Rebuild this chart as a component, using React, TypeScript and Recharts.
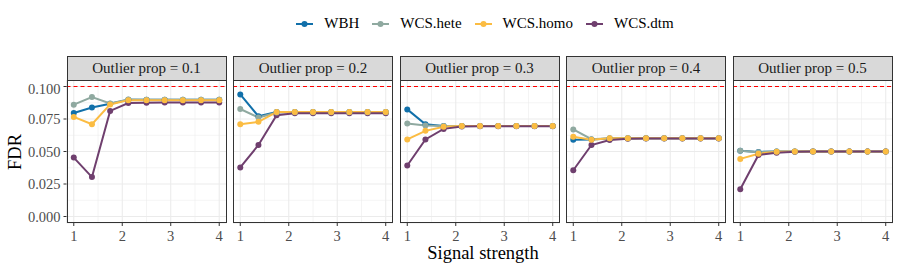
import { CartesianGrid, Line, LineChart, ReferenceLine, XAxis, YAxis } from 'recharts'

// ---------------------------------------------------------------------------
// Data
// ---------------------------------------------------------------------------

const SIGNAL = [1, 1.375, 1.75, 2.125, 2.5, 2.875, 3.25, 3.625, 4]
const OUTLIER_PROPS = ['0.1', '0.2', '0.3', '0.4', '0.5']

// one row per outlier proportion, one value per signal strength
const WBH_FDR = [
  [0.0796, 0.0838, 0.0868, 0.0898, 0.0898, 0.0898, 0.0898, 0.0898, 0.0898],
  [0.0939, 0.0771, 0.0804, 0.0803, 0.0803, 0.0803, 0.0803, 0.0803, 0.0803],
  [0.0824, 0.071, 0.0697, 0.0697, 0.0697, 0.0697, 0.0697, 0.0697, 0.0697],
  [0.059, 0.0592, 0.06, 0.0601, 0.0601, 0.0601, 0.0601, 0.0601, 0.0601],
  [0.0506, 0.0497, 0.05, 0.05, 0.05, 0.05, 0.05, 0.05, 0.05],
]
const HETE_FDR = [
  [0.086, 0.0919, 0.087, 0.09, 0.0898, 0.0898, 0.0898, 0.0898, 0.0898],
  [0.0827, 0.0761, 0.08, 0.0802, 0.0802, 0.0802, 0.0802, 0.0802, 0.0802],
  [0.0715, 0.07, 0.0697, 0.0697, 0.0697, 0.0697, 0.0697, 0.0697, 0.0697],
  [0.067, 0.0595, 0.0601, 0.0601, 0.0601, 0.0601, 0.0601, 0.0601, 0.0601],
  [0.0506, 0.0495, 0.05, 0.05, 0.05, 0.05, 0.05, 0.05, 0.05],
]
const HOMO_FDR = [
  [0.0766, 0.071, 0.0862, 0.0895, 0.0895, 0.0895, 0.0895, 0.0895, 0.0895],
  [0.071, 0.0728, 0.0803, 0.0803, 0.0803, 0.0803, 0.0803, 0.0803, 0.0803],
  [0.0593, 0.0659, 0.069, 0.0697, 0.0697, 0.0697, 0.0697, 0.0697, 0.0697],
  [0.0613, 0.059, 0.0601, 0.0601, 0.0601, 0.0601, 0.0601, 0.0601, 0.0601],
  [0.0443, 0.0483, 0.0499, 0.05, 0.05, 0.05, 0.05, 0.05, 0.05],
]
const DTM_FDR = [
  [0.0453, 0.0303, 0.0812, 0.0873, 0.0875, 0.0876, 0.0876, 0.0876, 0.0876],
  [0.0377, 0.055, 0.0779, 0.0795, 0.0795, 0.0795, 0.0795, 0.0795, 0.0795],
  [0.0392, 0.0593, 0.0674, 0.0692, 0.0694, 0.0694, 0.0694, 0.0694, 0.0694],
  [0.0356, 0.055, 0.0588, 0.0598, 0.06, 0.06, 0.06, 0.06, 0.06],
  [0.0209, 0.0473, 0.049, 0.0499, 0.05, 0.05, 0.05, 0.05, 0.05],
]

const Y_TICKS = [0, 0.025, 0.05, 0.075, 0.1]
const Y_MINOR = [0.0125, 0.0375, 0.0625, 0.0875]
const X_TICKS = [1, 2, 3, 4]
const X_MINOR = [1.5, 2.5, 3.5]

// ---------------------------------------------------------------------------
// Styling
// ---------------------------------------------------------------------------

const FONT = '"Liberation Serif", "Times New Roman", serif'

const METHODS = [
  { key: 'wbh', name: 'WBH', color: '#1170AA' },
  { key: 'hete', name: 'WCS.hete', color: '#8FA9A0' },
  { key: 'homo', name: 'WCS.homo', color: '#FBBC42' },
  { key: 'dtm', name: 'WCS.dtm', color: '#6F3F6E' },
]
const colorOf = (key: string) => METHODS.find((m) => m.key === key)!.color
// ggplot draws groups in factor (alphabetical) order
const POINT_ORDER = ['wbh', 'dtm', 'hete', 'homo']

const PANEL_LEFTS = [66.5, 233, 399.5, 566, 732.5]
const PANEL_W = 160
const PANEL_TOP = 80
const PANEL_H = 143
const Y_AXIS_W = 66.5
const X_AXIS_H = 30

function panelData(i: number) {
  return SIGNAL.map((s, j) => ({
    signal: s,
    wbh: WBH_FDR[i][j],
    hete: HETE_FDR[i][j],
    homo: HOMO_FDR[i][j],
    dtm: DTM_FDR[i][j],
  }))
}

function Panel({ index }: { index: number }): React.JSX.Element {
  const first = index === 0
  const left = PANEL_LEFTS[index] - (first ? Y_AXIS_W : 0)
  const width = PANEL_W + (first ? Y_AXIS_W : 0)
  const data = panelData(index)

  return (
    <div style={{ position: 'absolute', left, top: PANEL_TOP }}>
      <LineChart
        width={width}
        height={PANEL_H + X_AXIS_H}
        data={data}
        margin={{ top: 0, right: 0, bottom: 0, left: 0 }}
      >
        <CartesianGrid
          stroke="#EBEBEB"
          strokeWidth={0.55}
          horizontalValues={Y_MINOR}
          verticalValues={X_MINOR}
        />
        <CartesianGrid stroke="#EBEBEB" strokeWidth={1.07} />
        <XAxis
          dataKey="signal"
          type="number"
          domain={[0.85, 4.15]}
          ticks={X_TICKS}
          axisLine={false}
          tickLine={{ stroke: '#333333' }}
          tickSize={3}
          tickMargin={5}
          height={X_AXIS_H}
          tick={{ fontSize: 14.5, fill: '#4D4D4D', fontFamily: FONT }}
        />
        <YAxis
          hide={!first}
          type="number"
          domain={[-0.005, 0.105]}
          ticks={Y_TICKS}
          tickFormatter={(v: number) => v.toFixed(3)}
          axisLine={false}
          tickLine={{ stroke: '#333333' }}
          tickSize={3}
          tickMargin={3}
          width={Y_AXIS_W}
          tick={{ fontSize: 14.5, fill: '#4D4D4D', fontFamily: FONT }}
        />
        <ReferenceLine y={0.1} stroke="#FF0000" strokeWidth={1.1} strokeDasharray="4 3" />
        {METHODS.map((m) => (
          <Line
            key={`line-${m.key}`}
            dataKey={m.key}
            stroke={m.color}
            strokeWidth={2}
            dot={false}
            isAnimationActive={false}
          />
        ))}
        {POINT_ORDER.map((k) => (
          <Line
            key={`pt-${k}`}
            dataKey={k}
            stroke="none"
            strokeWidth={0}
            dot={{ r: 3, fill: colorOf(k), stroke: 'none' }}
            activeDot={false}
            isAnimationActive={false}
          />
        ))}
      </LineChart>
    </div>
  )
}

function Legend(): React.JSX.Element {
  return (
    <div
      style={{
        position: 'absolute',
        top: 15,
        left: 0,
        width: 900,
        display: 'flex',
        justifyContent: 'center',
        gap: 13,
        fontFamily: FONT,
        fontSize: 15,
        paddingLeft: 70,
        boxSizing: 'border-box',
      }}
    >
      {METHODS.map((m) => (
        <div key={m.key} style={{ display: 'flex', alignItems: 'center', gap: 11 }}>
          <svg width={17} height={8}>
            <line x1={0} y1={4} x2={17} y2={4} stroke={m.color} strokeWidth={2} />
            <circle cx={8.5} cy={4} r={3} fill={m.color} />
          </svg>
          <span style={{ fontFamily: FONT }}>{m.name}</span>
        </div>
      ))}
    </div>
  )
}

export default function App(): React.JSX.Element {
  return (
    <div style={{ position: 'relative', width: 900, height: 270, background: '#fff', fontFamily: FONT }}>
      <style>{'body{margin:0}'}</style>
      <Legend />
      {OUTLIER_PROPS.map((p, i) => (
        <div
          key={`strip-${p}`}
          style={{
            position: 'absolute',
            left: PANEL_LEFTS[i],
            top: 56,
            width: PANEL_W,
            height: 25,
            boxSizing: 'border-box',
            background: '#D9D9D9',
            border: '1px solid #333333',
            fontFamily: FONT,
            fontSize: 15,
            lineHeight: '23px',
            textAlign: 'center',
            color: '#1A1A1A',
          }}
        >
          Outlier prop = {p}
        </div>
      ))}
      {OUTLIER_PROPS.map((p, i) => (
        <Panel key={`panel-${p}`} index={i} />
      ))}
      {OUTLIER_PROPS.map((p, i) => (
        <div
          key={`border-${p}`}
          style={{
            position: 'absolute',
            left: PANEL_LEFTS[i],
            top: PANEL_TOP,
            width: PANEL_W,
            height: PANEL_H,
            boxSizing: 'border-box',
            border: '1px solid #333333',
            pointerEvents: 'none',
          }}
        />
      ))}
      <div
        style={{
          position: 'absolute',
          left: 0,
          width: 900,
          top: 243,
          paddingLeft: 66,
          boxSizing: 'border-box',
          textAlign: 'center',
          fontSize: 18.5,
        }}
      >
        Signal strength
      </div>
      <div
        style={{
          position: 'absolute',
          left: 15,
          top: 152,
          transform: 'translate(-50%, -50%) rotate(-90deg)',
          fontSize: 18.5,
        }}
      >
        FDR
      </div>
    </div>
  )
}
